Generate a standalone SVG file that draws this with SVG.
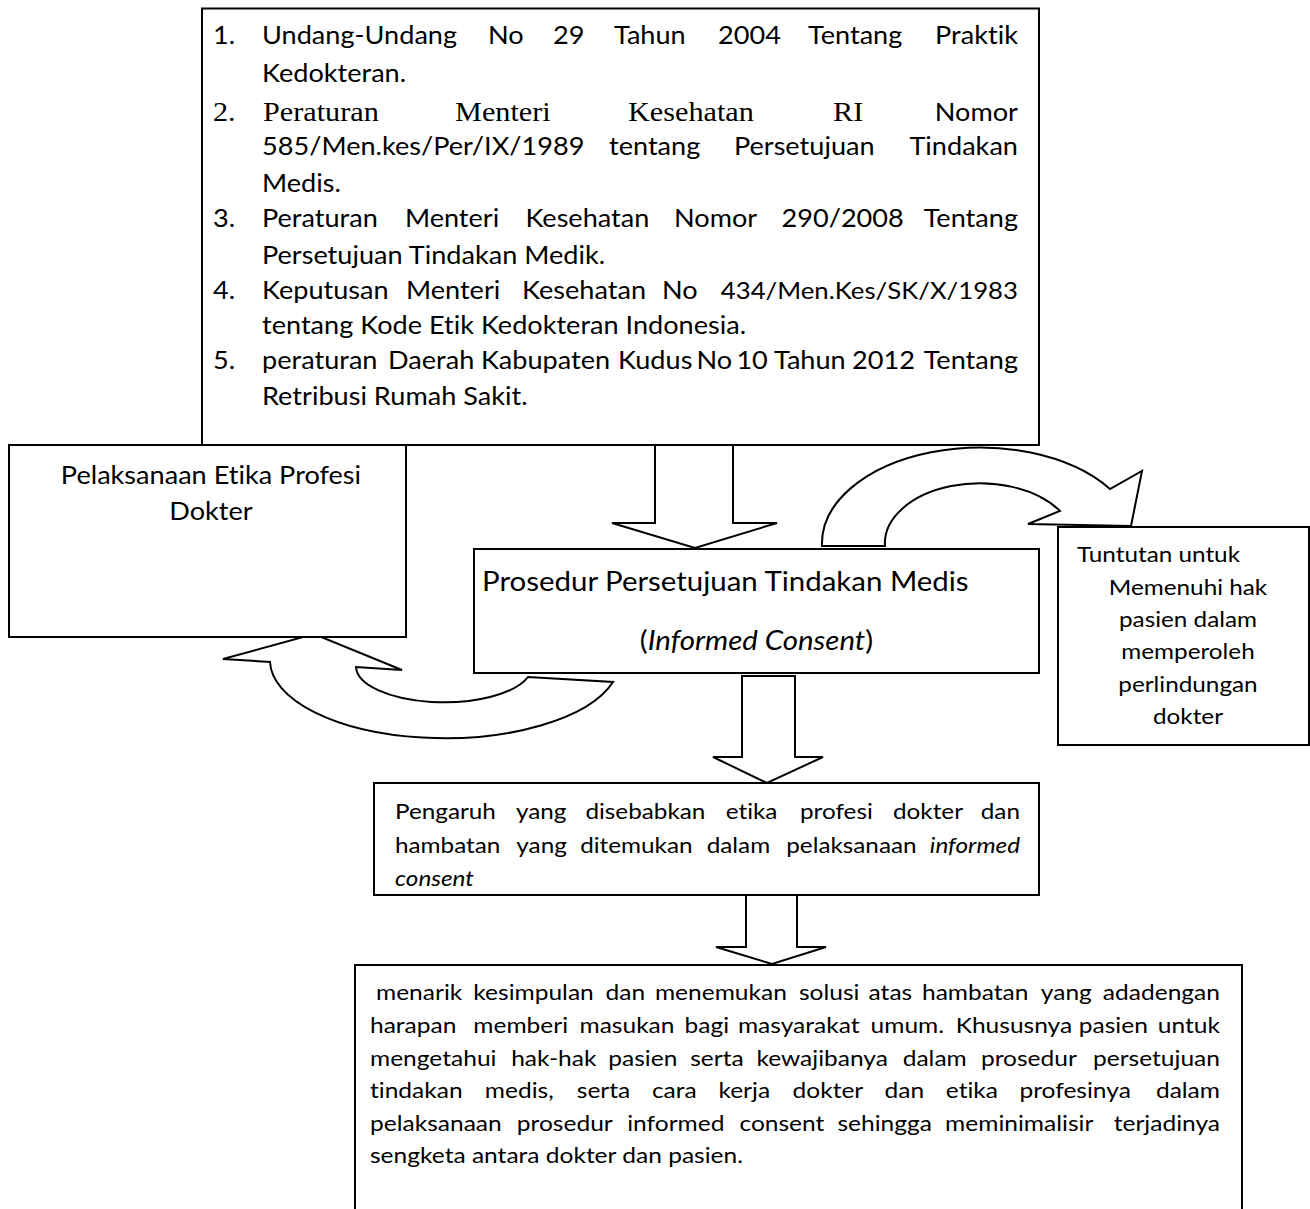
<svg xmlns="http://www.w3.org/2000/svg" width="1310" height="1209" viewBox="0 0 1310 1209">
<style>
.box{fill:#fff;stroke:#000;stroke-width:2}
.arr{fill:#fff;stroke:#000;stroke-width:2;stroke-linejoin:miter}
text{font-family:Lato,"Liberation Sans",sans-serif;fill:#000;font-variant-ligatures:none;font-feature-settings:"liga" 0,"clig" 0}
.ser{font-family:"Liberation Serif",serif}
.it{font-style:italic}
</style>
<rect width="1310" height="1209" fill="#fff"/>
<g id="connectors">
<polygon id="arrow-reg-prosedur" class="arr" points="655,445 655,523 612,523 695,548 777,523 733,523 733,445"/>
<polygon id="arrow-prosedur-pengaruh" class="arr" points="742,676 742,757 713,757 767,783 823,757 795,757 795,676"/>
<polygon id="arrow-pengaruh-kesimpulan" class="arr" points="746,895 746,947 716,947 772,964 826,947 797,947 797,895"/>
<path id="arrow-prosedur-tuntutan" class="arr" d="M822,546 A158,96 0 0 1 1110,489 L1142,471 L1131,526 L1028,524 L1060,511 A95,60 0 0 0 885,546 Z"/>
<path id="arrow-prosedur-pelaksanaan" class="arr" d="M613,682 A175,78 0 0 1 270,662 L223,659 L314,634 L402,670 L356,667 A88,36 0 0 0 528,677 Z"/>
</g>
<g id="node-regulasi">
<rect class="box" x="202" y="8.5" width="837" height="436.5"/>
<g transform="scale(1.12 1)" font-size="24.2">
<text y="44"><tspan x="190.18">1.</tspan><tspan x="233.93">Undang-Undang</tspan><tspan x="435.71">No</tspan><tspan x="493.75">29</tspan><tspan x="548.21">Tahun</tspan><tspan x="641.07">2004</tspan><tspan x="721.43">Tentang</tspan><tspan x="908.93" text-anchor="end">Praktik</tspan></text>
<text y="82" x="233.93">Kedokteran.</text>
<text y="121"><tspan class="ser" font-size="27" x="190.18">2.</tspan><tspan class="ser" font-size="27" x="234.82">Peraturan</tspan><tspan class="ser" font-size="27" x="406.25">Menteri</tspan><tspan class="ser" font-size="27" x="560.71">Kesehatan</tspan><tspan class="ser" font-size="27" x="743.75">RI</tspan><tspan x="908.93" text-anchor="end">Nomor</tspan></text>
<text y="155"><tspan x="233.93">585/Men.kes/Per/IX/1989</tspan><tspan x="543.75">tentang</tspan><tspan x="655.36">Persetujuan</tspan><tspan x="908.93" text-anchor="end">Tindakan</tspan></text>
<text y="192" x="233.93">Medis.</text>
<text y="227"><tspan x="190.18">3.</tspan><tspan x="233.93">Peraturan</tspan><tspan x="361.52">Menteri</tspan><tspan x="469.11">Kesehatan</tspan><tspan x="601.79">Nomor</tspan><tspan x="697.77">290/2008</tspan><tspan x="908.93" text-anchor="end">Tentang</tspan></text>
<text y="264" x="233.93">Persetujuan Tindakan Medik.</text>
<text y="299"><tspan x="190.18">4.</tspan><tspan x="233.93">Keputusan</tspan><tspan x="362.5">Menteri</tspan><tspan x="466.1">Kesehatan</tspan><tspan x="591.07">No</tspan><tspan x="908.93" text-anchor="end" font-size="23">434/Men.Kes/SK/X/1983</tspan></text>
<text y="334" x="233.93">tentang Kode Etik Kedokteran Indonesia.</text>
<text y="369"><tspan x="190.18">5.</tspan><tspan x="233.93">peraturan</tspan><tspan x="346.43">Daerah</tspan><tspan x="429.46">Kabupaten</tspan><tspan x="551.79">Kudus</tspan><tspan x="621.96">No</tspan><tspan x="657.5">10</tspan><tspan x="691.07">Tahun</tspan><tspan x="760.71">2012</tspan><tspan x="908.93" text-anchor="end">Tentang</tspan></text>
<text y="405" x="233.93">Retribusi Rumah Sakit.</text>
</g>
</g>
<g id="node-pelaksanaan">
<rect class="box" x="9" y="445" width="397" height="192"/>
<g transform="scale(1.12 1)" font-size="24.2" text-anchor="middle">
<text x="188.39" y="484">Pelaksanaan Etika Profesi</text>
<text x="188.39" y="520">Dokter</text>
</g>
</g>
<g id="node-prosedur">
<rect class="box" x="474" y="549" width="565" height="124"/>
<g transform="scale(1.12 1)" font-size="26.3">
<text x="430.36" y="591">Prosedur Persetujuan Tindakan Medis</text>
<text x="675.45" y="650" text-anchor="middle">(<tspan class="it">Informed Consent</tspan>)</text>
</g>
</g>
<g id="node-tuntutan">
<rect class="box" x="1058" y="527" width="251" height="218"/>
<g transform="scale(1.12 1)" font-size="21.7">
<text x="961.61" y="562">Tuntutan untuk</text>
<g text-anchor="middle">
<text x="1060.71" y="595">Memenuhi hak</text>
<text x="1060.71" y="627">pasien dalam</text>
<text x="1060.71" y="659">memperoleh</text>
<text x="1060.71" y="692">perlindungan</text>
<text x="1060.71" y="724">dokter</text>
</g>
</g>
</g>
<g id="node-pengaruh">
<rect class="box" x="374" y="783" width="665" height="112"/>
<g transform="scale(1.12 1)" font-size="21.7">
<text y="819"><tspan x="352.68">Pengaruh</tspan><tspan x="460.63">yang</tspan><tspan x="522.68">disebabkan</tspan><tspan x="647.95">etika</tspan><tspan x="714.29">profesi</tspan><tspan x="797.32">dokter</tspan><tspan x="910.71" text-anchor="end">dan</tspan></text>
<text y="853"><tspan x="352.68">hambatan</tspan><tspan x="461">yang</tspan><tspan x="518">ditemukan</tspan><tspan x="631">dalam</tspan><tspan x="702">pelaksanaan</tspan><tspan class="it" x="910.71" text-anchor="end">informed</tspan></text>
<text y="886" x="352.68" class="it">consent</text>
</g>
</g>
<g id="node-kesimpulan">
<path class="box" d="M355,1215 V965 H1242 V1215"/>
<g transform="scale(1.12 1)" font-size="21.9">
<text y="1000"><tspan x="335.71">menarik</tspan><tspan x="422.59">kesimpulan</tspan><tspan x="540.63">dan</tspan><tspan x="584.73">menemukan</tspan><tspan x="713.39">solusi</tspan><tspan x="775.54">atas</tspan><tspan x="823.21">hambatan</tspan><tspan x="929.29">yang</tspan><tspan x="1089.29" text-anchor="end">adadengan</tspan></text>
<text y="1033"><tspan x="330.36">harapan</tspan><tspan x="422.59">memberi</tspan><tspan x="517.41">masukan</tspan><tspan x="611.16">bagi</tspan><tspan x="658.84">masyarakat</tspan><tspan x="777.32">umum.</tspan><tspan x="853.3">Khususnya</tspan><tspan x="963.21">pasien</tspan><tspan x="1089.29" text-anchor="end">untuk</tspan></text>
<text y="1066"><tspan x="330.36">mengetahui</tspan><tspan x="456.43">hak-hak</tspan><tspan x="543.13">pasien</tspan><tspan x="616.25">serta</tspan><tspan x="675.36">kewajibanya</tspan><tspan x="805.98">dalam</tspan><tspan x="875.8">prosedur</tspan><tspan x="1089.29" text-anchor="end">persetujuan</tspan></text>
<text y="1098"><tspan x="330.36">tindakan</tspan><tspan x="432.86">medis,</tspan><tspan x="515">serta</tspan><tspan x="582.05">cara</tspan><tspan x="641.43">kerja</tspan><tspan x="707.68">dokter</tspan><tspan x="789.82">dan</tspan><tspan x="844.46">etika</tspan><tspan x="910.18">profesinya</tspan><tspan x="1089.29" text-anchor="end">dalam</tspan></text>
<text y="1131"><tspan x="330.36">pelaksanaan</tspan><tspan x="461.43">prosedur</tspan><tspan x="560">informed</tspan><tspan x="660.18">consent</tspan><tspan x="747.68">sehingga</tspan><tspan x="843.84">meminimalisir</tspan><tspan x="1089.29" text-anchor="end">terjadinya</tspan></text>
<text y="1163" x="330.36">sengketa antara dokter dan pasien.</text>
</g>
</g>
</svg>
